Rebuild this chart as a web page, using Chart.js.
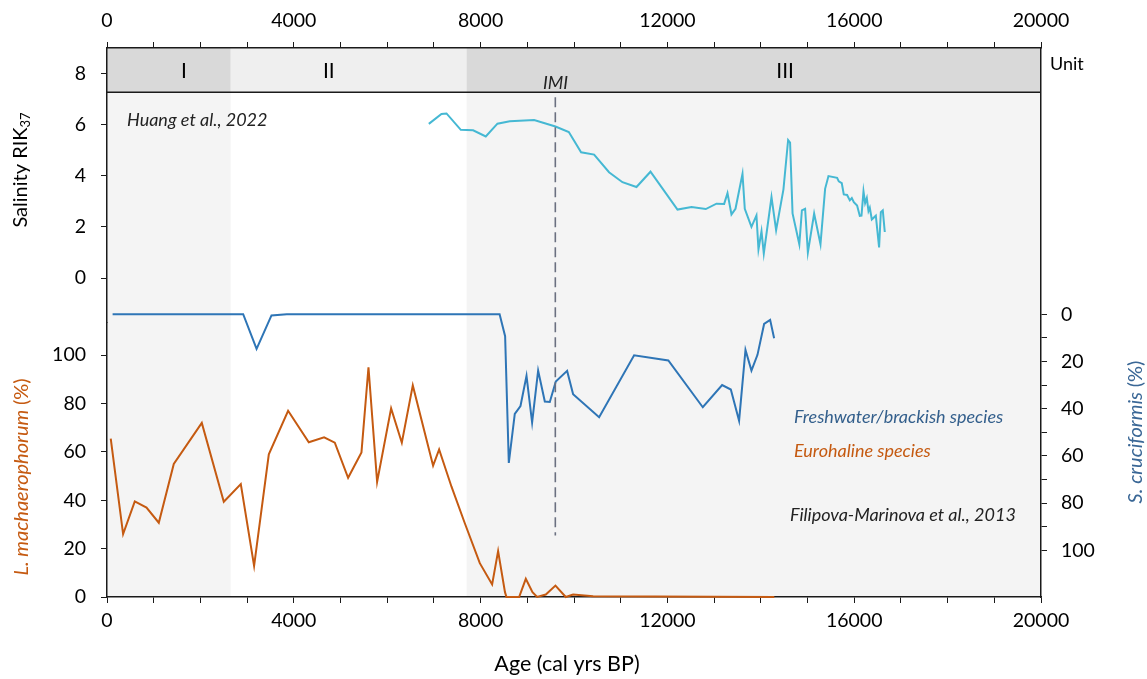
<!DOCTYPE html>
<html>
<head>
<meta charset="utf-8">
<script src="https://cdn.jsdelivr.net/npm/chart.js@4.4.0/dist/chart.umd.min.js"></script>
<style>
  html, body { margin: 0; padding: 0; background: #fff; }
  #wrap { width: 1147px; height: 679px; position: relative; }
</style>
</head>
<body>
<div id="wrap"><canvas id="chart"></canvas></div>
<script>
const FONT = 'Lato, "Open Sans", sans-serif';

// salinity (Huang et al., 2022)
const AGE_SAL = [6891, 7162, 7270, 7576, 7840, 8111, 8361, 8625, 9146, 9603, 9889, 10152, 10431, 10750,
  11038, 11338, 11638, 12216, 12516, 12822, 13051, 13215, 13287, 13372, 13458, 13608, 13657, 13800,
  13907, 13950, 14015, 14064, 14229, 14328, 14485, 14585, 14627, 14680, 14825, 14880, 14949, 15008,
  15142, 15278, 15377, 15449, 15634, 15670, 15734, 15777, 15848, 15906, 15949, 15992, 16062, 16120,
  16156, 16199, 16234, 16270, 16306, 16334, 16377, 16463, 16533, 16570, 16612, 16655];
const SALINITY = [6.03, 6.42, 6.44, 5.80, 5.78, 5.54, 6.04, 6.13, 6.18, 5.93, 5.71, 4.92, 4.83, 4.14,
  3.75, 3.56, 4.16, 2.68, 2.78, 2.70, 2.91, 2.90, 3.32, 2.49, 2.71, 4.08, 2.71, 2.00,
  2.45, 1.12, 1.83, 0.96, 3.17, 1.87, 3.47, 5.40, 5.30, 2.53, 1.32, 2.65, 2.71, 1.00,
  2.52, 1.32, 3.49, 3.99, 3.92, 3.78, 3.71, 3.27, 3.25, 3.04, 3.13, 2.97, 2.84, 2.43,
  2.44, 3.39, 2.93, 3.13, 2.62, 2.75, 2.29, 2.44, 1.20, 2.58, 2.65, 1.80];

// L. machaerophorum % (eurohaline)
const AGE_LM = [80, 345, 595, 846, 1109, 1430, 2030, 2501, 2865, 3150, 3465, 3878, 4321, 4649, 4878,
  5163, 5449, 5599, 5784, 6084, 6313, 6548, 6983, 7112, 7377, 7662, 7983, 8247, 8375, 8522, 8554,
  8825, 8968, 9111, 9210, 9396, 9603, 9824, 9981, 10409, 14290];
const L_MACH = [65.5, 26, 39.5, 37, 30.7, 55, 72, 39.4, 46.7, 12.9, 59, 77, 64, 66, 63.8,
  49.3, 59.8, 95, 47.6, 78, 63.8, 87.5, 54.3, 61, 45.6, 30.5, 14, 5.2, 19, 2, 0,
  0, 7.5, 2, 0, 1, 4.7, 0, 1, 0.3, 0];

// S. cruciformis % (freshwater/brackish)
const AGE_SC = [120, 2916, 3203, 3522, 3850, 8407, 8525, 8604, 8732, 8854, 8983, 9103, 9232, 9375,
  9482, 9610, 9853, 9981, 10538, 11287, 12020, 12758, 13172, 13358, 13535, 13672, 13800, 13929,
  14071, 14200, 14285];
const S_CRUC = [0, 0, 14.7, 0.5, 0, 0, 9.3, 63, 42.2, 38.9, 26.1, 45.9, 23.9, 37,
  37.2, 28.5, 24, 33.9, 43.6, 17.4, 19.6, 39.4, 30, 31.9, 45.1, 15.1, 23.9, 17.2,
  4.1, 2.4, 10.2];

const X_TICKS = [0, 1000, 2000, 3000, 4000, 5000, 6000, 7000, 8000, 9000, 10000, 11000, 12000,
  13000, 14000, 15000, 16000, 17000, 18000, 19000, 20000];
const SAL_TICKS = [0, 1, 2, 3, 4, 5, 6, 7, 8, 9];
const LM_TICKS = [0, 10, 20, 30, 40, 50, 60, 70, 80, 90, 100];
const SC_TICKS = [0, 10, 20, 30, 40, 50, 60, 70, 80, 90, 100];

const UNITS = ['I', 'II', 'III'];
const UNIT_START = [0, 2650, 7700];
const UNIT_END = [2650, 7700, 20000];
const UNIT_LABEL_AGE = [1650, 4750, 14520];
const UNIT_BOTTOM = 7.27;   // salinity value at lower edge of unit bar
const IMI_AGE = 9600;

const CYAN = '#45b8d3';
const BLUE = '#2e75b6';
const ORANGE = '#c55a11';
const AXIS = '#1a1a1a';

function pts(xs, ys) {
  return xs.map((a, i) => ({ x: a, y: ys[i] }));
}

function drawRotated(ctx, parts, cx, cy) {
  ctx.save();
  ctx.translate(cx, cy);
  ctx.rotate(-Math.PI / 2);
  let total = 0;
  parts.forEach(p => { ctx.font = p.font; p.w = ctx.measureText(p.text).width; total += p.w; });
  let x = -total / 2;
  ctx.textBaseline = 'middle';
  ctx.textAlign = 'left';
  parts.forEach(p => {
    ctx.font = p.font;
    ctx.fillStyle = p.color;
    ctx.fillText(p.text, x, p.dy || 0);
    x += p.w;
  });
  ctx.restore();
}

const decor = {
  id: 'decor',
  beforeDraw(chart) {
    const { ctx, chartArea: a, scales } = chart;
    const xs = scales.x;
    const boxBottom = scales.ySal.getPixelForValue(UNIT_BOTTOM);
    ctx.save();
    UNITS.forEach((u, i) => {
      const x0 = xs.getPixelForValue(UNIT_START[i]);
      const x1 = xs.getPixelForValue(UNIT_END[i]);
      ctx.fillStyle = i === 1 ? '#efefef' : '#d9d9d9';
      ctx.fillRect(x0, a.top, x1 - x0, boxBottom - a.top);
      ctx.fillStyle = i === 1 ? '#ffffff' : '#f4f4f4';
      ctx.fillRect(x0, boxBottom, x1 - x0, a.bottom - boxBottom);
    });
    ctx.strokeStyle = AXIS;
    ctx.lineWidth = 1.5;
    ctx.beginPath();
    ctx.moveTo(a.left, boxBottom);
    ctx.lineTo(a.right, boxBottom);
    ctx.stroke();
    ctx.fillStyle = '#000';
    ctx.font = '21px ' + FONT;
    ctx.textAlign = 'center';
    ctx.textBaseline = 'middle';
    UNITS.forEach((u, i) => {
      ctx.fillText(u, xs.getPixelForValue(UNIT_LABEL_AGE[i]), (a.top + boxBottom) / 2 + 1);
    });
    ctx.restore();
  },
  afterDatasetsDraw(chart) {
    const { ctx, scales } = chart;
    const xi = scales.x.getPixelForValue(IMI_AGE);
    ctx.save();
    ctx.strokeStyle = '#6b7080';
    ctx.lineWidth = 1.6;
    ctx.setLineDash([10, 5]);
    ctx.beginPath();
    ctx.moveTo(xi, scales.ySal.getPixelForValue(7.07));
    ctx.lineTo(xi, scales.yLm.getPixelForValue(25.4));
    ctx.stroke();
    ctx.restore();
  },
  afterDraw(chart) {
    const { ctx } = chart;
    ctx.save();
    ctx.textBaseline = 'middle';
    ctx.textAlign = 'left';
    ctx.fillStyle = '#222';
    ctx.font = 'italic 18px ' + FONT;
    ctx.fillText('Huang et al., 2022', 127, 120);
    ctx.fillText('IMI', 543, 83);
    ctx.fillText('Filipova-Marinova et al., 2013', 790, 515);
    ctx.fillStyle = '#335f8c';
    ctx.fillText('Freshwater/brackish species', 794, 417);
    ctx.fillStyle = ORANGE;
    ctx.fillText('Eurohaline species', 794, 451);
    ctx.fillStyle = '#000';
    ctx.font = '18px ' + FONT;
    ctx.fillText('Unit', 1050, 64);
    ctx.font = '21.5px ' + FONT;
    ctx.textAlign = 'center';
    ctx.fillText('Age (cal yrs BP)', 567, 664);

    drawRotated(ctx, [
      { text: 'Salinity RIK', font: '20px ' + FONT, color: '#000' },
      { text: '37', font: '13px ' + FONT, color: '#000', dy: 5 }
    ], 21, 170);
    drawRotated(ctx, [
      { text: 'L. machaerophorum ', font: 'italic 20px ' + FONT, color: ORANGE },
      { text: '(%)', font: '20px ' + FONT, color: ORANGE }
    ], 22, 477);
    drawRotated(ctx, [
      { text: 'S. cruciformis ', font: 'italic 20px ' + FONT, color: '#3a6796' },
      { text: '(%)', font: '20px ' + FONT, color: '#3a6796' }
    ], 1136, 432);
    ctx.restore();
  }
};

function tickFont() {
  return { family: FONT, size: 19.5 };
}

const ctx = document.getElementById('chart').getContext('2d');
new Chart(ctx, {
  type: 'line',
  data: {
    datasets: [
      {
        label: 'Salinity', data: pts(AGE_SAL, SALINITY), xAxisID: 'x', yAxisID: 'ySal',
        borderColor: CYAN, borderWidth: 2, pointRadius: 0, tension: 0
      },
      {
        label: 'S. cruciformis', data: pts(AGE_SC, S_CRUC), xAxisID: 'x', yAxisID: 'ySc',
        borderColor: BLUE, borderWidth: 2, pointRadius: 0, tension: 0
      },
      {
        label: 'L. machaerophorum', data: pts(AGE_LM, L_MACH), xAxisID: 'x', yAxisID: 'yLm',
        borderColor: ORANGE, borderWidth: 2, pointRadius: 0, tension: 0, clip: 4
      }
    ]
  },
  options: {
    responsive: true,
    maintainAspectRatio: false,
    animation: false,
    layout: { padding: 0 },
    plugins: { legend: { display: false }, tooltip: { enabled: false } },
    scales: {
      x: {
        type: 'linear', position: 'bottom', min: 0, max: 20000,
        afterFit: s => { s.height = 82; },
        afterBuildTicks: s => { s.ticks = X_TICKS.map(v => ({ value: v })); },
        grid: { drawOnChartArea: false, tickLength: 6, tickColor: AXIS },
        border: { color: AXIS, width: 1.5 },
        ticks: {
          autoSkip: false, maxRotation: 0, padding: 6, color: '#000', font: tickFont(),
          callback: v => (v % 4000 === 0 ? String(v) : '')
        }
      },
      x2: {
        type: 'linear', position: 'top', min: 0, max: 20000,
        afterFit: s => { s.height = 48; },
        afterBuildTicks: s => { s.ticks = X_TICKS.map(v => ({ value: v })); },
        grid: { drawOnChartArea: false, tickLength: 6, tickColor: AXIS },
        border: { color: AXIS, width: 1.5 },
        ticks: {
          autoSkip: false, maxRotation: 0, padding: 10, color: '#000', font: tickFont(),
          callback: v => (v % 4000 === 0 ? String(v) : '')
        }
      },
      ySal: {
        type: 'linear', position: 'left', stack: 'left', stackWeight: 1, weight: 2,
        min: -1.74, max: 9,
        afterFit: s => { s.width = 107; },
        afterBuildTicks: s => { s.ticks = SAL_TICKS.map(v => ({ value: v })); },
        grid: { drawOnChartArea: false, tickLength: 6, tickColor: AXIS },
        border: { color: AXIS, width: 1.5 },
        ticks: {
          padding: 15, color: '#000', font: tickFont(),
          callback: v => (v % 2 === 0 ? String(v) : '')
        }
      },
      yLm: {
        type: 'linear', position: 'left', stack: 'left', stackWeight: 1, weight: 1,
        min: 0, max: 113.5,
        afterFit: s => { s.width = 107; },
        afterBuildTicks: s => { s.ticks = LM_TICKS.map(v => ({ value: v })); },
        grid: { drawOnChartArea: false, tickLength: 6, tickColor: AXIS },
        border: { color: AXIS, width: 1.5 },
        ticks: {
          padding: 15, color: '#000', font: tickFont(),
          callback: v => (v % 20 === 0 ? String(v) : '')
        }
      },
      ySc: {
        type: 'linear', position: 'right', reverse: true,
        min: -112.8, max: 119.8,
        afterFit: s => { s.width = 106; },
        afterBuildTicks: s => { s.ticks = SC_TICKS.map(v => ({ value: v })); },
        grid: { drawOnChartArea: false, tickLength: 6, tickColor: AXIS },
        border: { color: AXIS, width: 1.5 },
        ticks: {
          padding: 14, color: '#000', font: tickFont(),
          callback: v => (v % 20 === 0 ? String(v) : '')
        }
      }
    }
  },
  plugins: [decor]
});
</script>
</body>
</html>
